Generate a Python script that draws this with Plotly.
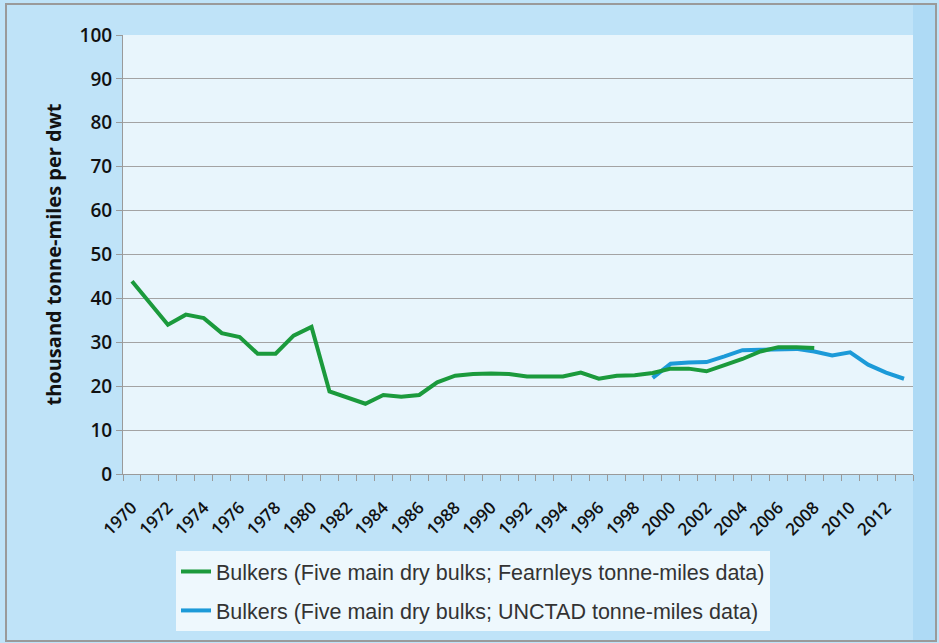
import plotly.graph_objects as go

# Bulker productivity, thousand tonne-miles per dwt
fearnleys_years = list(range(1970, 2009))
fearnleys_values = [
    43.9, 39.0, 34.0, 36.3, 35.5, 32.1, 31.2, 27.4, 27.4, 31.5,
    33.5, 18.8, 17.4, 16.0, 18.0, 17.6, 18.0, 20.9, 22.4, 22.8,
    22.9, 22.8, 22.2, 22.1, 22.2, 23.1, 21.7, 22.4, 22.5, 23.0,
    24.0, 24.0, 23.4, 24.8, 26.2, 27.9, 28.9, 28.9, 28.7,
]

unctad_years = list(range(1999, 2014))
unctad_values = [
    21.9, 25.1, 25.4, 25.5, 26.8, 28.2, 28.3, 28.5, 28.5, 27.9,
    27.0, 27.7, 24.9, 23.1, 21.7,
]

tick_years = list(range(1970, 2013, 2))
tick_labels = [str(y) for y in tick_years]

series_names = [
    "Bulkers (Five main dry bulks; Fearnleys tonne-miles data)",
    "Bulkers (Five main dry bulks; UNCTAD tonne-miles data)",
]

# tick marks sit between the yearly categories
all_years = list(range(1970, 2014))
boundaries = [y - 0.5 for y in all_years] + [all_years[-1] + 0.5]
x_range = [boundaries[0], boundaries[-1]]

GREEN = "#1b9a3c"
BLUE = "#1c9ad8"

fig = go.Figure()
fig.add_trace(go.Scatter(
    x=unctad_years, y=unctad_values, mode="lines", name=series_names[1],
    line=dict(color=BLUE, width=4), legendgroup="b", legendrank=2,
))
fig.add_trace(go.Scatter(
    x=fearnleys_years, y=fearnleys_values, mode="lines", name=series_names[0],
    line=dict(color=GREEN, width=4), legendgroup="a", legendrank=1,
))
# empty trace that carries the tick-mark axis
fig.add_trace(go.Scatter(
    x=[None], y=[None], xaxis="x2", showlegend=False, hoverinfo="skip",
))

W, H = 939, 643
L, R, T, B = 123, 913, 35, 474


def px_x(p):
    return (p - L) / (R - L)


def px_y(p):
    return (B - p) / (B - T)


shapes = [
    # lighter band along the right edge of the frame
    dict(type="rect", xref="paper", yref="paper",
         x0=px_x(913), x1=px_x(936), y0=px_y(641), y1=px_y(4),
         fillcolor="#aedaf5", line=dict(width=0), layer="below"),
    # outer frame
    dict(type="rect", xref="paper", yref="paper",
         x0=px_x(6), x1=px_x(936), y0=px_y(641), y1=px_y(4),
         fillcolor="rgba(0,0,0,0)", line=dict(color="#9a9a9a", width=2),
         layer="above"),
]

fig.update_layout(
    width=W, height=H,
    margin=dict(l=L, r=W - R, t=T, b=H - B),
    paper_bgcolor="#bfe3f8",
    plot_bgcolor="#e8f5fc",
    shapes=shapes,
    showlegend=True,
    legend=dict(
        x=px_x(176), y=px_y(551), xanchor="left", yanchor="top",
        bgcolor="#eef8fd", borderwidth=0,
        font=dict(family="Liberation Sans, Arial", size=21.5, color="#333333"),
        tracegroupgap=8, traceorder="grouped",
    ),
    xaxis=dict(
        range=x_range,
        tickmode="array", tickvals=tick_years, ticktext=tick_labels,
        tickangle=-45,
        # invisible major ticks keep the year labels clear of the axis
        ticks="outside", ticklen=16, tickcolor="rgba(0,0,0,0)",
        tickfont=dict(family="Open Sans", size=17, color="#111111", weight=600),
        showgrid=False, zeroline=False,
        showline=True, linecolor="#9a9a9a", linewidth=1,
    ),
    xaxis2=dict(
        range=x_range, overlaying="x", anchor="y", side="bottom",
        tickmode="array", tickvals=boundaries,
        ticks="outside", ticklen=6, tickcolor="#9a9a9a",
        showticklabels=False, showgrid=False, zeroline=False, showline=False,
    ),
    yaxis=dict(
        range=[0, 100], dtick=10, tick0=0,
        ticks="outside", ticklen=6, tickcolor="#9a9a9a",
        tickfont=dict(family="Open Sans", size=19, color="#111111", weight=600),
        showgrid=True, gridcolor="#a3a3a3", gridwidth=1,
        zeroline=False,
        showline=True, linecolor="#9a9a9a", linewidth=1,
        title=dict(text="thousand tonne-miles per dwt", standoff=12,
                   font=dict(family="Open Sans", size=20, color="#111111",
                             weight=700)),
    ),
)

fig.write_html("out.html")
